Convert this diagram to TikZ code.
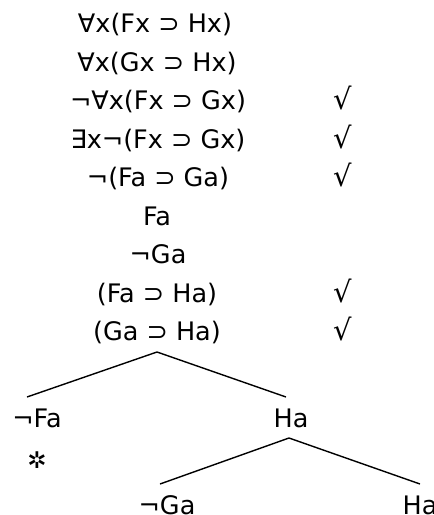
\documentclass[tikz,border=0pt]{standalone}
\usepackage{fontspec}
\setmainfont{DejaVu Sans}
\begin{document}
\begin{tikzpicture}[x=1pt,y=-1pt,
  fml/.style={anchor=base,inner sep=0pt,font=\fontsize{25.5}{30}\selectfont},
  tick/.style={anchor=base,inner sep=0pt,font=\fontsize{29}{34}\selectfont},
  branch/.style={line width=1.4pt}]
\useasboundingbox (0,0) rectangle (434,515);
% trunk of the tableau
\node[fml] (f1) at (155,32)  {∀x(Fx ⊃ Hx)};
\node[fml] (f2) at (157,71)  {∀x(Gx ⊃ Hx)};
\node[fml] (f3) at (158,109) {¬∀x(Fx ⊃ Gx)};
\node[fml] (f4) at (158,148) {∃x¬(Fx ⊃ Gx)};
\node[fml] (f5) at (158,186) {¬(Fa ⊃ Ga)};
\node[fml] (f6) at (157,225) {Fa};
\node[fml] (f7) at (158,263) {¬Ga};
\node[fml] (f8) at (157,302) {(Fa ⊃ Ha)};
\node[fml] (f9) at (157,340) {(Ga ⊃ Ha)};
% check marks for used formulas
\node[tick] (c3) at (343,109) {√};
\node[tick] (c4) at (343,148) {√};
\node[tick] (c5) at (343,186) {√};
\node[tick] (c8) at (343,302) {√};
\node[tick] (c9) at (343,340) {√};
% first split
\coordinate (s1) at (157,352);
\coordinate (s1l) at (27,397);
\coordinate (s1r) at (286,397);
\draw[branch] (s1l) -- (s1) -- (s1r);
\node[fml] (l1) at (37,427)  {¬Fa};
\node[fml] (r1) at (291,427) {Ha};
\node[inner sep=0pt,font=\fontsize{23}{27}\selectfont] (x1) at (37,460) {✲};
% second split
\coordinate (s2) at (289,438);
\coordinate (s2l) at (160,484);
\coordinate (s2r) at (420,484);
\draw[branch] (s2l) -- (s2) -- (s2r);
\node[fml] (l2) at (167,514) {¬Ga};
\node[fml] (r2) at (420,514) {Ha};
\end{tikzpicture}
\end{document}
